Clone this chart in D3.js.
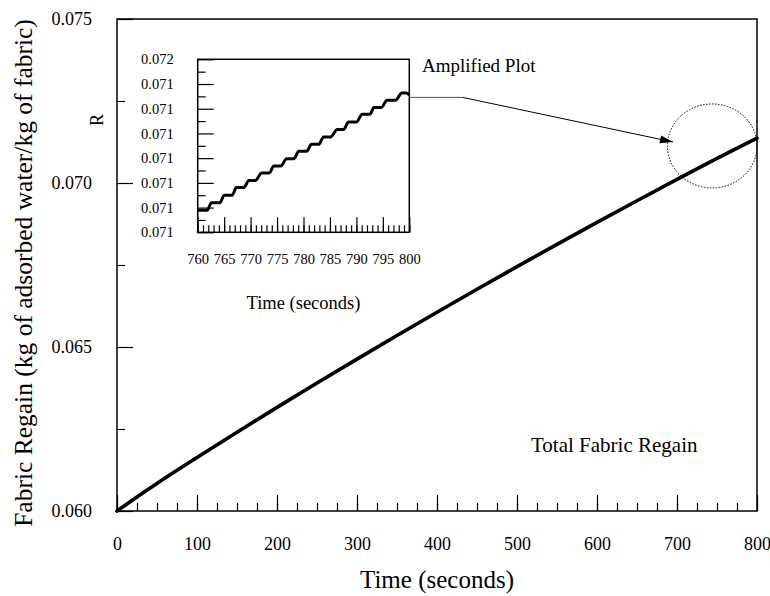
<!DOCTYPE html>
<html><head><meta charset="utf-8">
<script src="https://cdn.jsdelivr.net/npm/d3@7"></script>
<style>
html,body{margin:0;padding:0;background:#fff;}
svg{display:block;font-family:"Liberation Serif","Times New Roman",serif;}
</style></head><body>
<svg id="chart" width="770" height="596"></svg>
<script>
// ---- main chart data ----
const mainTime   = [0, 25, 50, 100, 150, 200, 250, 300, 350, 400, 450, 500, 550, 600, 650, 700, 750, 800];
const mainRegain = [0.06000, 0.06043, 0.06084, 0.06163, 0.06240, 0.06316, 0.06390, 0.06463, 0.06535,
                    0.06606, 0.06676, 0.06745, 0.06813, 0.06880, 0.06946, 0.07011, 0.07075, 0.07137];
const mainXTicks = [0, 100, 200, 300, 400, 500, 600, 700, 800];
const mainXMinorTicks = d3.range(0, 801, 25);
const mainYTicks = [0.060, 0.065, 0.070, 0.075];
const mainYTickLabels = ["0.060", "0.065", "0.070", "0.075"];
const mainYMinorTicks = [0.0625, 0.0675, 0.0725];

// ---- inset (amplified) data: plateau start/end points ----
const insetTime = [760.0, 761.8, 762.6, 764.2, 765.0, 766.5, 767.3, 768.7, 769.7, 770.9, 772.1, 773.5,
                   774.4, 775.7, 776.8, 778.2, 779.1, 780.6, 781.5, 782.9, 783.8, 785.1, 786.4, 787.6,
                   788.5, 790.0, 791.1, 792.6, 793.3, 794.7, 795.8, 797.4, 798.6, 799.5, 800.0];
const insetRegain = [0.070889, 0.070889, 0.070920, 0.070920, 0.070950, 0.070950, 0.070981, 0.070981,
                     0.071010, 0.071010, 0.071040, 0.071040, 0.071068, 0.071068, 0.071098, 0.071098,
                     0.071128, 0.071128, 0.071156, 0.071156, 0.071186, 0.071186, 0.071216, 0.071216,
                     0.071246, 0.071246, 0.071278, 0.071278, 0.071305, 0.071305, 0.071334, 0.071334,
                     0.071364, 0.071364, 0.071355];
const insetXTicks = [760, 765, 770, 775, 780, 785, 790, 795, 800];
const insetXMinorTicks = d3.range(760, 801, 1);
const insetYTicks = [0.0708, 0.0709, 0.0710, 0.0711, 0.0712, 0.0713, 0.0714, 0.0715];
const insetYTickLabels = ["0.071", "0.071", "0.071", "0.071", "0.071", "0.071", "0.071", "0.072"];
const insetYMinorTicks = [0.07085, 0.07095, 0.07105, 0.07115, 0.07125, 0.07135, 0.07145];

// ---- annotation anchors (data space of main chart) ----
const calloutElbow = {t: 432, v: 0.07261};
const calloutTip   = {t: 695, v: 0.07125};
const circleCenter = {t: 744, v: 0.07113};
const circleRadius = {t: 56, v: 0.00128};

const svg = d3.select("#chart");
const ink = "#000";

// ---- main scales ----
const M = {left: 117, right: 757, top: 19, bottom: 511};
const x = d3.scaleLinear().domain([0, 800]).range([M.left, M.right]);
const y = d3.scaleLinear().domain([0.060, 0.075]).range([M.bottom, M.top]);

// minor ticks
svg.append("g").attr("transform", `translate(0,${M.bottom})`)
  .call(d3.axisBottom(x).tickValues(mainXMinorTicks).tickSizeInner(-8).tickSizeOuter(0).tickFormat(""))
  .call(g => g.select(".domain").remove());
svg.append("g").attr("transform", `translate(${M.left},0)`)
  .call(d3.axisLeft(y).tickValues(mainYMinorTicks).tickSizeInner(-8).tickSizeOuter(0).tickFormat(""))
  .call(g => g.select(".domain").remove());
// major ticks
svg.append("g").attr("class", "mx").attr("transform", `translate(0,${M.bottom})`)
  .call(d3.axisBottom(x).tickValues(mainXTicks).tickSizeInner(-16).tickSizeOuter(0).tickPadding(26).tickFormat(d3.format("d")))
  .call(g => g.select(".domain").remove());
svg.append("g").attr("class", "my").attr("transform", `translate(${M.left},0)`)
  .call(d3.axisLeft(y).tickValues(mainYTicks).tickSizeInner(-16).tickSizeOuter(0).tickPadding(25)
        .tickFormat((d, i) => mainYTickLabels[i]))
  .call(g => g.select(".domain").remove());
svg.selectAll(".mx text, .my text").attr("font-family", "Liberation Serif").attr("font-size", 18).attr("fill", ink);
svg.selectAll("g line").attr("stroke", ink).attr("stroke-width", 1.2);

// frame
svg.append("rect").attr("x", M.left).attr("y", M.top)
  .attr("width", M.right - M.left).attr("height", M.bottom - M.top)
  .attr("fill", "none").attr("stroke", ink).attr("stroke-width", 1.5);

// main curve
const mainData = mainTime.map((t, i) => ({t, v: mainRegain[i]}));
svg.append("path").datum(mainData)
  .attr("fill", "none").attr("stroke", ink).attr("stroke-width", 3.6).attr("stroke-linecap", "round")
  .attr("d", d3.line().x(d => x(d.t)).y(d => y(d.v)).curve(d3.curveMonotoneX));

// titles
svg.append("text").attr("x", (M.left + M.right) / 2).attr("y", 588)
  .attr("text-anchor", "middle").attr("font-size", 25).attr("fill", ink).text("Time (seconds)");
svg.append("text").attr("transform", "translate(32,273) rotate(-90)")
  .attr("text-anchor", "middle").attr("font-size", 25.5).attr("fill", ink)
  .text("Fabric Regain (kg of adsorbed water/kg of fabric)");
svg.append("text").attr("x", 531).attr("y", 452).attr("font-size", 21).attr("fill", ink).text("Total Fabric Regain");

// ---- inset ----
const I = {left: 197.7, right: 409.3, top: 59.3, bottom: 232.3};
const ix = d3.scaleLinear().domain([760, 800]).range([I.left, I.right]);
const iy = d3.scaleLinear().domain([0.0708, 0.0715]).range([I.bottom, I.top]);
const ig = svg.append("g");
ig.append("rect").attr("x", I.left).attr("y", I.top).attr("width", I.right - I.left)
  .attr("height", I.bottom - I.top).attr("fill", "#fff");
ig.append("g").attr("transform", `translate(0,${I.bottom})`)
  .call(d3.axisBottom(ix).tickValues(insetXMinorTicks).tickSizeInner(-7).tickSizeOuter(0).tickFormat(""))
  .call(g => g.select(".domain").remove());
ig.append("g").attr("transform", `translate(${I.left},0)`)
  .call(d3.axisLeft(iy).tickValues(insetYMinorTicks).tickSizeInner(-8).tickSizeOuter(0).tickFormat(""))
  .call(g => g.select(".domain").remove());
ig.append("g").attr("class", "ix").attr("transform", `translate(0,${I.bottom})`)
  .call(d3.axisBottom(ix).tickValues(insetXTicks).tickSizeInner(-15).tickSizeOuter(0).tickPadding(21).tickFormat(d3.format("d")))
  .call(g => g.select(".domain").remove());
ig.append("g").attr("class", "iy").attr("transform", `translate(${I.left},0)`)
  .call(d3.axisLeft(iy).tickValues(insetYTicks).tickSizeInner(-16).tickSizeOuter(0).tickPadding(24)
        .tickFormat((d, i) => insetYTickLabels[i]))
  .call(g => g.select(".domain").remove());
ig.selectAll(".ix text, .iy text").attr("font-family", "Liberation Serif").attr("font-size", 14.5).attr("fill", ink);
ig.selectAll("g line").attr("stroke", ink).attr("stroke-width", 1.2);
ig.append("rect").attr("x", I.left).attr("y", I.top).attr("width", I.right - I.left)
  .attr("height", I.bottom - I.top).attr("fill", "none").attr("stroke", ink).attr("stroke-width", 1.5);
const insetData = insetTime.map((t, i) => ({t, v: insetRegain[i]}));
ig.append("path").datum(insetData)
  .attr("fill", "none").attr("stroke", ink).attr("stroke-width", 3).attr("stroke-linejoin", "round")
  .attr("d", d3.line().x(d => ix(d.t)).y(d => iy(d.v)).curve(d3.curveMonotoneX));
ig.append("text").attr("transform", `translate(103,120) rotate(-90)`)
  .attr("text-anchor", "middle").attr("font-size", 18).attr("fill", ink).text("R");
ig.append("text").attr("x", (I.left + I.right) / 2).attr("y", 309)
  .attr("text-anchor", "middle").attr("font-size", 18.5).attr("fill", ink).text("Time (seconds)");
svg.append("text").attr("x", 422).attr("y", 72).attr("font-size", 19).attr("fill", ink).text("Amplified Plot");

// ---- callout ----
const ey = y(calloutElbow.v);
svg.append("line").attr("x1", I.right).attr("y1", ey).attr("x2", x(calloutElbow.t)).attr("y2", ey)
  .attr("stroke", "#555").attr("stroke-width", 1);
const x1 = x(calloutElbow.t), y1 = ey, x2 = x(calloutTip.t), y2 = y(calloutTip.v);
svg.append("line").attr("x1", x1).attr("y1", y1).attr("x2", x2).attr("y2", y2)
  .attr("stroke", ink).attr("stroke-width", 1);
const ang = Math.atan2(y2 - y1, x2 - x1), L = 13, W = 4;
const bx = x2 - L * Math.cos(ang), by = y2 - L * Math.sin(ang);
svg.append("path").attr("fill", ink)
  .attr("d", `M${x2},${y2}L${bx - W * Math.sin(ang)},${by + W * Math.cos(ang)}L${bx + W * Math.sin(ang)},${by - W * Math.cos(ang)}Z`);
svg.append("ellipse").attr("cx", x(circleCenter.t)).attr("cy", y(circleCenter.v))
  .attr("rx", x(circleRadius.t) - x(0)).attr("ry", y(0.06) - y(0.06 + circleRadius.v))
  .attr("fill", "none").attr("stroke", ink).attr("stroke-width", 1).attr("stroke-dasharray", "1.5,1.5");
</script>
</body></html>
